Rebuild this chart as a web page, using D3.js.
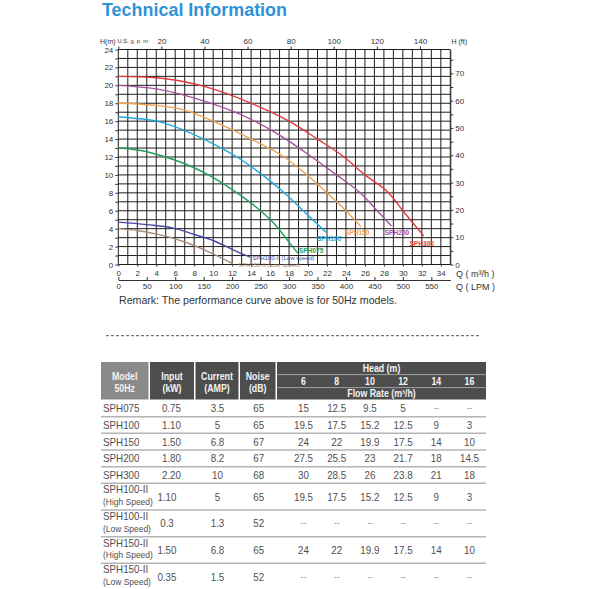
<!DOCTYPE html>
<html><head><meta charset="utf-8">
<script src="https://cdn.jsdelivr.net/npm/d3@7"></script>
<style>body{margin:0;background:#fff}svg{display:block}</style>
</head><body>
<svg id="c" width="589" height="589"></svg>
<script>
// ---------- DATA (Q in m3/h, H in m) ----------
const sph300 = [[0,21],[4,20.85],[9.15,19.85],[13.9,18.05],[18,16],[21,14],[23.8,12],[26,10],[28.5,8],[30,6],[32.2,3.2]];
const sph200 = [[0,20],[4,19.6],[9.15,18.2],[14,16.2],[17.5,14.1],[20.4,12],[23,10],[25.5,8],[27.3,6],[28.8,4.3]];
const sph150 = [[0,18],[3.5,17.8],[7.1,17.2],[10,16],[14,14],[17.5,12],[19.9,10],[22,8],[24,6],[25.6,4.2]];
const sph100 = [[0,16.5],[2,16.3],[4,16],[9,14],[12.5,12],[15.2,10],[17.5,8],[19.5,6],[21.9,3.6]];
const sph075 = [[0,13],[2.5,12.7],[5,12],[8,10.8],[9.5,10],[12.5,8],[15,6],[16.5,4.5],[18,2.5],[18.9,1.3]];
const sph100Low = [[0,4.73],[3,4.45],[5.8,4.06],[8,3.35],[10,2.68],[12.1,1.64],[13.9,0.82]];
const sph150Low = [[0,4.0],[2,3.8],[4.05,3.39],[6.86,2.57],[9.3,1.53],[12.1,0.07]];

const flowTicks = d3.range(0, 35, 2);          // m3/h labels 0..34
const headTicks = d3.range(0, 25, 1);          // m
const gpmTicks  = [0,20,40,60,80,100,120,140];
const ftTicks   = d3.range(0, 80, 5);
const lpmTicks  = d3.range(0, 551, 50);

// table data
const models     = ["SPH075","SPH100","SPH150","SPH200","SPH300","SPH100-II","SPH100-II","SPH150-II","SPH150-II"];
const speeds     = ["","","","","","(High Speed)","(Low Speed)","(High Speed)","(Low Speed)"];
const inputKW    = ["0.75","1.10","1.50","1.80","2.20","1.10","0.3","1.50","0.35"];
const currentAmp = ["3.5","5","6.8","8.2","10","5","1.3","6.8","1.5"];
const noiseDb    = ["65","65","67","67","68","65","52","65","52"];
const headCols   = [6,8,10,12,14,16];
const flowRates  = [
  ["15","12.5","9.5","5","--","--"],
  ["19.5","17.5","15.2","12.5","9","3"],
  ["24","22","19.9","17.5","14","10"],
  ["27.5","25.5","23","21.7","18","14.5"],
  ["30","28.5","26","23.8","21","18"],
  ["19.5","17.5","15.2","12.5","9","3"],
  ["--","--","--","--","--","--"],
  ["24","22","19.9","17.5","14","10"],
  ["--","--","--","--","--","--"]
];

// ---------- STYLE ----------
const FONT = "'Liberation Sans', Arial, Helvetica, sans-serif";
const series = [
  {name:"SPH300", pts:sph300, color:"#e2393f"},
  {name:"SPH200", pts:sph200, color:"#a6529e"},
  {name:"SPH150", pts:sph150, color:"#f3a04e"},
  {name:"SPH100", pts:sph100, color:"#1ea7e1"},
  {name:"SPH075", pts:sph075, color:"#1f9e5c"},
  {name:"SPH100-II (Low speed)", pts:sph100Low, color:"#4a4aa6"},
  {name:"SPH150-II (Low speed)", pts:sph150Low, color:"#a88c7a"}
];
const labelStyle = {
  "SPH300":{dx:-2,dy:8,anchor:"middle",bold:true,size:6.6},
  "SPH200":{dx:5.5,dy:7.5,anchor:"middle",bold:true,size:6.6},
  "SPH150":{dx:-4,dy:6.6,anchor:"middle",bold:true,size:6.6},
  "SPH100":{dx:3,dy:7,anchor:"middle",bold:true,size:6.6},
  "SPH075":{dx:13.5,dy:-1.8,anchor:"middle",bold:true,size:6.6},
  "SPH100-II (Low speed)":{dx:2,dy:1.2,anchor:"start",bold:false,size:6},
  "SPH150-II (Low speed)":{dx:5,dy:1.6,anchor:"start",bold:false,size:6}
};

const svg = d3.select("#c");
function squeeze(sel, k){
  sel.each(function(){
    const L = this.getComputedTextLength();
    if (L > 0) d3.select(this).attr("textLength", L*k).attr("lengthAdjust","spacingAndGlyphs");
  });
}

// ---------- TITLE ----------
svg.append("text").attr("x",102).attr("y",16)
  .attr("font-family",FONT).attr("font-weight","bold").attr("font-size",18)
  .attr("fill","#2f93d7").attr("textLength",185).attr("lengthAdjust","spacingAndGlyphs")
  .text("Technical Information");

// ---------- CHART ----------
const x = d3.scaleLinear().domain([0,35]).range([118.3,450.3]);
const y = d3.scaleLinear().domain([0,24]).range([264.5,49.5]);
const gpm = d3.scaleLinear().domain([0,35/0.2271247]).range(x.range());
const ft  = d3.scaleLinear().domain([0,24/0.3048]).range(y.range());
const lpm = d3.scaleLinear().domain([0,35*1000/60]).range(x.range());

const chart = svg.append("g");
const grid = chart.append("g").attr("stroke","#1e1e1e").attr("stroke-width",1);
grid.selectAll("line.v").data(d3.range(0,36)).join("line").attr("class","v")
  .attr("x1",d=>x(d)).attr("x2",d=>x(d)).attr("y1",y(0)).attr("y2",y(24));
grid.selectAll("line.h").data(headTicks).join("line").attr("class","h")
  .attr("x1",x(0)).attr("x2",x(35)).attr("y1",d=>y(d)).attr("y2",d=>y(d));

function styleAxis(g, size){
  g.attr("font-family",FONT).attr("font-size",size);
  g.selectAll("text").attr("fill","#333");
  g.selectAll("line,path").attr("stroke","#333");
}
// left (m)
const gl = chart.append("g").attr("transform",`translate(${x(0)},0)`)
  .call(d3.axisLeft(y).tickValues(headTicks).tickSize(3).tickPadding(2).tickFormat(d=>d%2?"":d));
gl.select(".domain").remove(); styleAxis(gl,8);
// top (gpm)
const gt = chart.append("g").attr("transform",`translate(0,${y(24)})`)
  .call(d3.axisTop(gpm).tickValues(gpmTicks).tickSize(3).tickPadding(3).tickFormat(d=>d?d:""));
gt.select(".domain").remove(); styleAxis(gt,8);
// right (ft)
const gr = chart.append("g").attr("transform",`translate(${x(35)},0)`)
  .call(d3.axisRight(ft).tickValues(ftTicks).tickSize(3).tickSizeOuter(0).tickPadding(2).tickFormat(d=>d%10?"":d));
styleAxis(gr,8);
// bottom (m3/h)
const gb = chart.append("g").attr("transform",`translate(0,${y(0)})`)
  .call(d3.axisBottom(x).tickValues(flowTicks).tickSize(2).tickPadding(4));
gb.select(".domain").remove(); styleAxis(gb,8);
// LPM
const gp = chart.append("g").attr("transform","translate(0,280)")
  .call(d3.axisBottom(lpm).tickValues(lpmTicks).tickSizeInner(-3).tickSizeOuter(0).tickPadding(3));
styleAxis(gp,8);

// axis titles
const at = chart.append("g").attr("font-family",FONT).attr("fill","#333");
at.append("text").attr("x",100).attr("y",43.5).attr("font-size",7).text("H(m)");
at.append("text").attr("x",117.5).attr("y",43.3).attr("font-size",5.8).text("U.S. g. p. m");
at.append("text").attr("x",451.5).attr("y",44).attr("font-size",7).text("H (ft)");
at.append("text").attr("x",456).attr("y",277).attr("font-size",9).text("Q ( m³/h )");
at.append("text").attr("x",456).attr("y",290).attr("font-size",9).text("Q ( LPM )");

// curves
const line = d3.line().x(d=>x(d[0])).y(d=>y(d[1])).curve(d3.curveMonotoneX);
const cg = chart.append("g");
cg.selectAll("path").data(series).join("path")
  .attr("d",d=>line(d.pts)).attr("fill","none")
  .attr("stroke",d=>d.color).attr("stroke-width",1.4);
cg.selectAll("text").data(series).join("text")
  .attr("x",d=>x(d.pts[d.pts.length-1][0])+labelStyle[d.name].dx)
  .attr("y",d=>y(d.pts[d.pts.length-1][1])+labelStyle[d.name].dy+2)
  .attr("text-anchor",d=>labelStyle[d.name].anchor)
  .attr("font-family",FONT).attr("font-size",d=>labelStyle[d.name].size)
  .attr("font-weight",d=>labelStyle[d.name].bold?"bold":"normal")
  .attr("fill",d=>d.color).text(d=>d.name);

// remark
svg.append("text").attr("x",119).attr("y",304).attr("font-family",FONT).attr("font-size",11.2)
  .attr("fill","#333").attr("textLength",278).attr("lengthAdjust","spacingAndGlyphs")
  .text("Remark: The performance curve above is for 50Hz models.");

// dashed separator
svg.append("line").attr("x1",106).attr("x2",481).attr("y1",335.7).attr("y2",335.7)
  .attr("stroke","#555").attr("stroke-width",1).attr("stroke-dasharray","3,2");

// ---------- TABLE ----------
const tb = svg.append("g").attr("font-family",FONT);
const tTop = 362, hdrBottom = 399.5;
const colBoxes = [[101,148.5],[150,194],[195.5,238.5],[240,275.5],[277,486]];
const headX = d3.scalePoint().domain(headCols).range([303.5,469.5]);
const colX = {model:103, input:171.5, current:217.5, noise:258.8};

tb.selectAll("rect.h").data(colBoxes).join("rect").attr("class","h")
  .attr("x",d=>d[0]).attr("y",tTop).attr("width",d=>d[1]-d[0]).attr("height",hdrBottom-tTop)
  .attr("fill",(d,i)=>i===0?"#8a8a8a":"#4d4d4d");
tb.selectAll("line.hs").data([374.6,387.6]).join("line").attr("class","hs")
  .attr("x1",277).attr("x2",486).attr("y1",d=>d).attr("y2",d=>d)
  .attr("stroke","#a0a0a0").attr("stroke-width",1);

const hdr = tb.append("g").attr("fill","#f4f4f4").attr("font-weight","bold").attr("font-size",10)
  .attr("text-anchor","middle");
const hdrCols = [["Model","50Hz"],["Input","(kW)"],["Current","(AMP)"],["Noise","(dB)"]];
hdrCols.forEach((t,i)=>{
  const cx = (colBoxes[i][0]+colBoxes[i][1])/2;
  hdr.append("text").attr("x",cx).attr("y",380).text(t[0]);
  hdr.append("text").attr("x",cx).attr("y",391.5).text(t[1]);
});
hdr.append("text").attr("x",381.5).attr("y",372.3).text("Head (m)");
hdr.selectAll("text.hc").data(headCols).join("text").attr("class","hc")
  .attr("x",d=>headX(d)).attr("y",384.6).text(d=>d);
hdr.append("text").attr("x",381.5).attr("y",397.4).text("Flow Rate (m³/h)");
squeeze(hdr.selectAll("text"),0.88);

// rows
const unit = 16.67;
let yy = 400;
const rows = models.map((m,i)=>{
  const h = speeds[i] ? unit*1.6 : unit;
  const r = {i, y0:yy, h, mid:yy+h/2};
  yy += h; return r;
});
const body = tb.append("g").attr("fill","#505050").attr("font-size",11);
// separators
body.selectAll("line.sep").data(rows.slice(0,-1)).join("line").attr("class","sep")
  .attr("x1",101).attr("x2",486).attr("y1",d=>d.y0+d.h).attr("y2",d=>d.y0+d.h)
  .attr("stroke","#b4b4b4").attr("stroke-width",1.5);

rows.forEach(r=>{
  const i = r.i, two = !!speeds[i];
  const base = r.mid + 3.9;
  if (two){
    body.append("text").attr("class","sq").attr("x",colX.model).attr("y",r.mid-3.4).text(models[i]);
    body.append("text").attr("class","sq").attr("x",colX.model).attr("y",r.mid+8.4)
      .attr("font-size",9.5).text(speeds[i]);
  } else {
    body.append("text").attr("class","sq").attr("x",colX.model).attr("y",base).text(models[i]);
  }
  const vals = [[two?167:colX.input, inputKW[i]],[colX.current,currentAmp[i]],[colX.noise,noiseDb[i]]];
  vals.forEach(v=>body.append("text").attr("class","sq").attr("x",v[0]).attr("y",base)
    .attr("text-anchor","middle").text(v[1]));
  flowRates[i].forEach((v,j)=>{
    const t = body.append("text").attr("class","sq").attr("x",headX(headCols[j]))
      .attr("text-anchor","middle").text(v);
    if (v==="--") t.attr("y",base-1).attr("fill","#8a8a8a").attr("font-size",9);
    else t.attr("y",base);
  });
});
squeeze(body.selectAll("text.sq"),0.89);
</script>
</body></html>
